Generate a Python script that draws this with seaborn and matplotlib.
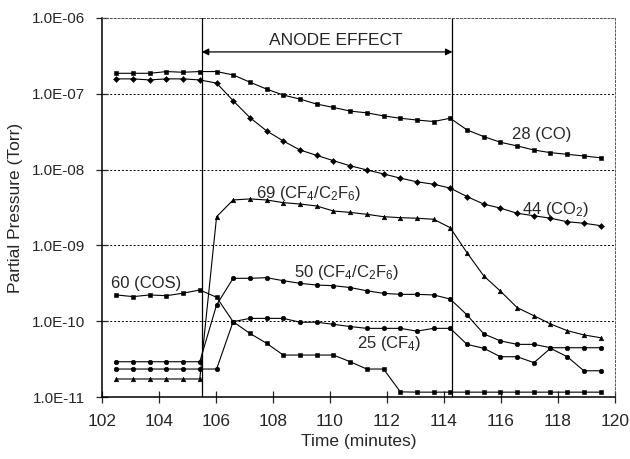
import numpy as np
import matplotlib
matplotlib.use("Agg")
import matplotlib.pyplot as plt
import seaborn as sns

# sample times (minutes)
time = [102.50, 103.09, 103.67, 104.26, 104.84, 105.43, 106.02, 106.60, 107.19, 107.78,
        108.36, 108.95, 109.53, 110.12, 110.71, 111.29, 111.88, 112.47, 113.05, 113.64,
        114.22, 114.81, 115.40, 115.98, 116.57, 117.16, 117.74, 118.33, 118.91, 119.50]

# partial pressures (Torr)
co = [1.86e-7, 1.86e-7, 1.86e-7, 1.96e-7, 1.92e-7, 1.96e-7, 1.96e-7, 1.77e-7, 1.42e-7, 1.15e-7,
      9.6e-8, 8.5e-8, 7.3e-8, 6.6e-8, 5.9e-8, 5.6e-8, 5.1e-8, 4.75e-8, 4.5e-8, 4.3e-8,
      4.75e-8, 3.33e-8, 2.72e-8, 2.29e-8, 2.05e-8, 1.81e-8, 1.67e-8, 1.59e-8, 1.51e-8, 1.43e-8]
co2 = [1.57e-7, 1.57e-7, 1.52e-7, 1.57e-7, 1.57e-7, 1.52e-7, 1.38e-7, 8.1e-8, 4.84e-8, 3.23e-8,
       2.38e-8, 1.81e-8, 1.54e-8, 1.31e-8, 1.12e-8, 9.9e-9, 8.75e-9, 7.7e-9, 6.9e-9, 6.4e-9,
       5.7e-9, 4.4e-9, 3.5e-9, 3.1e-9, 2.65e-9, 2.46e-9, 2.28e-9, 2.05e-9, 1.96e-9, 1.82e-9]
m69 = [1.73e-11, 1.73e-11, 1.73e-11, 1.73e-11, 1.73e-11, 1.73e-11, 2.39e-9, 3.97e-9, 4.1e-9, 3.97e-9,
       3.66e-9, 3.51e-9, 3.31e-9, 2.84e-9, 2.72e-9, 2.57e-9, 2.39e-9, 2.32e-9, 2.28e-9, 2.21e-9,
       1.71e-9, 8.0e-10, 3.95e-10, 2.5e-10, 1.51e-10, 1.18e-10, 9.2e-11, 7.5e-11, 6.6e-11, 6.05e-11]
m50 = [2.92e-11, 2.92e-11, 2.92e-11, 2.92e-11, 2.92e-11, 2.92e-11, 1.64e-10, 3.68e-10, 3.68e-10, 3.75e-10,
       3.42e-10, 3.16e-10, 3.0e-10, 2.94e-10, 2.78e-10, 2.52e-10, 2.33e-10, 2.26e-10, 2.26e-10, 2.22e-10,
       1.96e-10, 1.21e-10, 6.8e-11, 5.5e-11, 4.95e-11, 4.95e-11, 4.47e-11, 4.47e-11, 4.47e-11, 4.47e-11]
cos = [2.22e-10, 2.11e-10, 2.22e-10, 2.17e-10, 2.34e-10, 2.58e-10, 2.07e-10, 9.85e-11, 6.9e-11, 5.1e-11,
       3.58e-11, 3.58e-11, 3.58e-11, 3.58e-11, 2.92e-11, 2.34e-11, 2.34e-11, 1.17e-11, 1.16e-11, 1.16e-11,
       1.16e-11, 1.16e-11, 1.16e-11, 1.16e-11, 1.16e-11, 1.16e-11, 1.16e-11, 1.16e-11, 1.16e-11, 1.16e-11]
m25 = [2.34e-11, 2.34e-11, 2.34e-11, 2.34e-11, 2.34e-11, 2.34e-11, 2.34e-11, 9.85e-11, 1.09e-10, 1.09e-10,
       1.09e-10, 9.7e-11, 9.7e-11, 9.1e-11, 8.5e-11, 8.05e-11, 8.05e-11, 8.05e-11, 7.4e-11, 8.05e-11,
       8.05e-11, 4.95e-11, 4.39e-11, 3.4e-11, 3.4e-11, 2.84e-11, 4.39e-11, 3.4e-11, 2.22e-11, 2.22e-11]

x_ticks = [102, 104, 106, 108, 110, 112, 114, 116, 118, 120]
y_ticks = [1e-11, 1e-10, 1e-9, 1e-8, 1e-7, 1e-6]
y_tick_labels = ['1.0E-11', '1.0E-10', '1.0E-09', '1.0E-08', '1.0E-07', '1.0E-06']
effect_start, effect_end = 105.5, 114.3

sns.set_style("ticks")
plt.rcParams['font.family'] = ['Liberation Sans', 'DejaVu Sans']
plt.rcParams['mathtext.default'] = 'regular'

fig = plt.figure(figsize=(6.3, 4.59), dpi=100)
ax = fig.add_axes([0.162, 0.135, 0.814, 0.826])

series = [
    (co, 's'), (co2, 'D'), (m69, '^'), (m50, 'o'), (cos, 's'), (m25, 'o'),
]
for vals, mk in series:
    sns.lineplot(x=time, y=vals, ax=ax, color='black', lw=0.8, marker=mk,
                 markersize=3.3 if mk != 'D' else 3.0, markeredgecolor='black',
                 markeredgewidth=0.4)

ax.set_yscale('log')
ax.set_xlim(102, 120)
ax.set_ylim(1e-11, 1e-6)
ax.set_xticks(x_ticks)
ax.set_yticks(y_ticks)
ax.set_yticklabels(y_tick_labels)
ax.yaxis.set_minor_locator(matplotlib.ticker.NullLocator())
ax.tick_params(axis='y', direction='inout', length=9, width=0.9, pad=8, labelsize=11)
ax.tick_params(axis='x', direction='inout', length=8, width=0.9, pad=8, labelsize=12.5)

ax.yaxis.grid(True, which='major', linestyle=(0, (2, 2)), color='black', lw=0.7)
for side in ['left', 'bottom']:
    ax.spines[side].set_linewidth(1.1)
    ax.spines[side].set_color('black')
for side in ['top', 'right']:
    ax.spines[side].set_visible(True)
    ax.spines[side].set_linestyle((0, (2, 2)))
    ax.spines[side].set_linewidth(0.7)
    ax.spines[side].set_color('#555555')

# anode effect window
ax.axvline(effect_start, color='black', lw=0.9)
ax.axvline(effect_end, color='black', lw=0.9)
ax.annotate('', xy=(effect_start, 3.56e-7), xytext=(effect_end, 3.56e-7),
            arrowprops=dict(arrowstyle='<|-|>', color='black', lw=0.9,
                            mutation_scale=10, shrinkA=0, shrinkB=0))
ax.text(110.2, 5.0e-7, 'ANODE EFFECT', ha='center', va='center', fontsize=12.5)

# series labels
lbl = 12
ax.text(116.4, 2.86e-8, '28 (CO)', ha='left', va='center', fontsize=lbl)
ax.text(116.75, 2.95e-9, '44 (CO$_2$)', ha='left', va='center', fontsize=lbl)
ax.text(107.4, 4.9e-9, '69 (CF$_4$/C$_2$F$_6$)', ha='left', va='center', fontsize=lbl)
ax.text(108.72, 4.33e-10, '50 (CF$_4$/C$_2$F$_6$)', ha='left', va='center', fontsize=lbl)
ax.text(102.3, 3.19e-10, '60 (COS)', ha='left', va='center', fontsize=lbl)
ax.text(110.96, 5.15e-11, '25 (CF$_4$)', ha='left', va='center', fontsize=lbl)

ax.set_xlabel('Time (minutes)', fontsize=12.5, labelpad=4)
ax.set_ylabel('Partial Pressure (Torr)', fontsize=12.5, labelpad=6)

fig.savefig('out.png', dpi=100)
